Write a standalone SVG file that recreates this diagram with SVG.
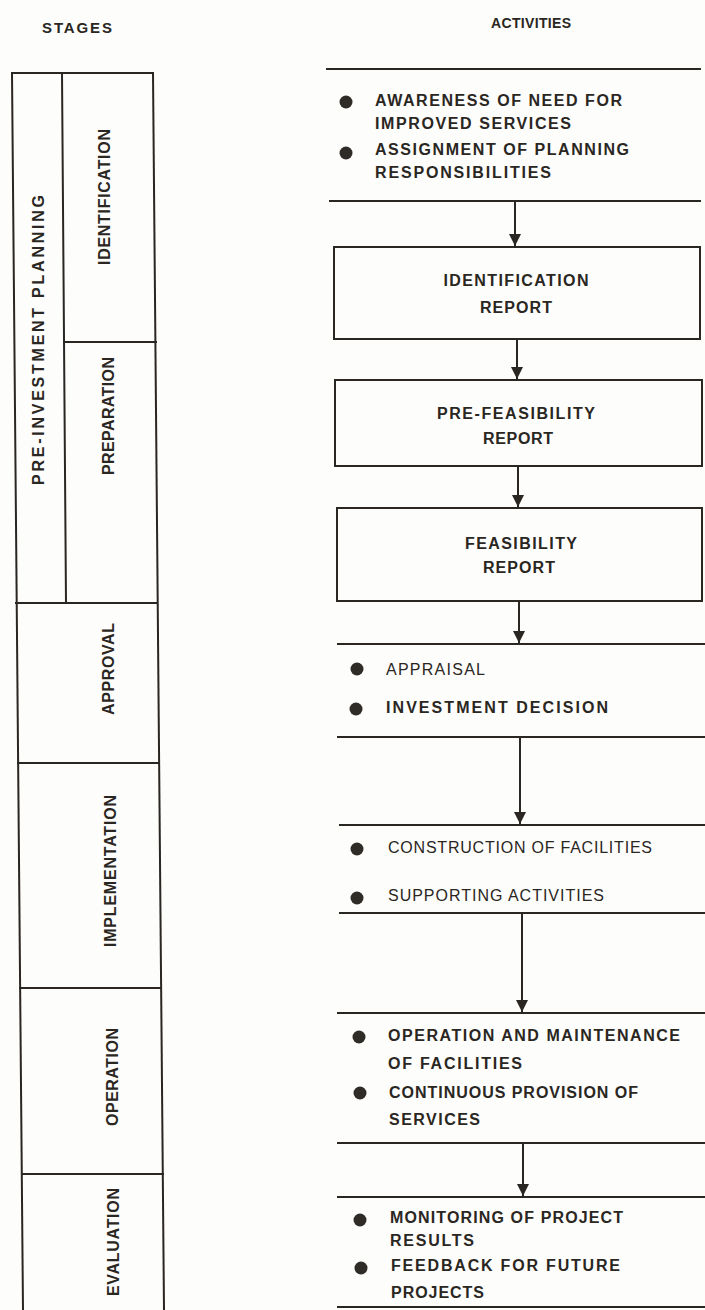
<svg xmlns="http://www.w3.org/2000/svg" width="705" height="1310" viewBox="0 0 705 1310">
<defs>
<style>
text{font-family:"Liberation Sans",Arial,sans-serif;font-size:16px;fill:#2a2622;font-weight:bold}
.lt{font-weight:normal}
.hd{font-size:15px}
.mid{text-anchor:middle}
.ln{stroke:#2a2622;stroke-width:2;fill:none;stroke-linecap:square}
.box{stroke:#2a2622;stroke-width:2;fill:none}
.dot{fill:#2f2b27}
</style>
<marker id="ah" viewBox="0 0 10 10" refX="10" refY="5" markerWidth="12" markerHeight="12" orient="auto" markerUnits="userSpaceOnUse">
<path d="M0,0 L10,5 L0,10 z" fill="#2a2622"/>
</marker>
</defs>
<rect width="705" height="1310" fill="#fdfdfb"/>

<g id="headers">
<text x="77" y="33" class="mid hd" textLength="70" lengthAdjust="spacing">STAGES</text>
<text x="531" y="28" class="mid" style="font-size:14px" textLength="80" lengthAdjust="spacing">ACTIVITIES</text>
</g>

<g id="stages">
<g id="stage-frame">
<line class="ln" x1="12" y1="73" x2="153" y2="73"/>
<line class="ln" x1="12" y1="73" x2="23" y2="1310"/>
<line class="ln" x1="153" y1="73" x2="164" y2="1310"/>
<line class="ln" x1="62" y1="73" x2="66" y2="603"/>
<line class="ln" x1="64" y1="342" x2="156" y2="342"/>
<line class="ln" x1="16" y1="603" x2="157" y2="603"/>
<line class="ln" x1="18" y1="763" x2="159" y2="763"/>
<line class="ln" x1="20" y1="988" x2="161" y2="988"/>
<line class="ln" x1="22" y1="1174" x2="163" y2="1174"/>
</g>
<g id="stage-preinvestment"><text class="mid" transform="translate(44,340) rotate(-90)" textLength="290" lengthAdjust="spacing">PRE-INVESTMENT  PLANNING</text></g>
<g id="stage-identification"><text class="mid" transform="translate(110,197) rotate(-90)" textLength="136" lengthAdjust="spacing">IDENTIFICATION</text></g>
<g id="stage-preparation"><text class="mid" transform="translate(114,416) rotate(-90)" textLength="118" lengthAdjust="spacing">PREPARATION</text></g>
<g id="stage-approval"><text class="mid" transform="translate(114,669) rotate(-90)" textLength="92" lengthAdjust="spacing">APPROVAL</text></g>
<g id="stage-implementation"><text class="mid" transform="translate(116,871) rotate(-90)" textLength="152" lengthAdjust="spacing">IMPLEMENTATION</text></g>
<g id="stage-operation"><text class="mid" transform="translate(118,1077) rotate(-90)" textLength="98" lengthAdjust="spacing">OPERATION</text></g>
<g id="stage-evaluation"><text class="mid" transform="translate(119,1242) rotate(-90)" textLength="108" lengthAdjust="spacing">EVALUATION</text></g>
</g>

<g id="connectors">
<line class="ln" x1="327" y1="69" x2="700" y2="69"/>
<line class="ln" x1="330" y1="201" x2="700" y2="201"/>
<line class="ln" x1="338" y1="644" x2="705" y2="644"/>
<line class="ln" x1="338" y1="737" x2="705" y2="737"/>
<line class="ln" x1="340" y1="825" x2="705" y2="825"/>
<line class="ln" x1="340" y1="913" x2="705" y2="913"/>
<line class="ln" x1="338" y1="1013" x2="705" y2="1013"/>
<line class="ln" x1="338" y1="1143" x2="705" y2="1143"/>
<line class="ln" x1="338" y1="1197" x2="705" y2="1197"/>
<line class="ln" x1="338" y1="1307" x2="705" y2="1307"/>
<line class="ln" x1="515" y1="201" x2="515" y2="246" marker-end="url(#ah)"/>
<line class="ln" x1="517" y1="339" x2="517" y2="379" marker-end="url(#ah)"/>
<line class="ln" x1="518" y1="466" x2="518" y2="507" marker-end="url(#ah)"/>
<line class="ln" x1="519" y1="601" x2="519" y2="643" marker-end="url(#ah)"/>
<line class="ln" x1="520" y1="737" x2="520" y2="824" marker-end="url(#ah)"/>
<line class="ln" x1="522" y1="913" x2="522" y2="1012" marker-end="url(#ah)"/>
<line class="ln" x1="523" y1="1143" x2="523" y2="1196" marker-end="url(#ah)"/>
</g>

<g id="act-identification">
<circle class="dot" cx="346" cy="102" r="6.5"/>
<circle class="dot" cx="346" cy="153" r="6.5"/>
<text x="375" y="106" textLength="247" lengthAdjust="spacing">AWARENESS OF NEED FOR</text>
<text x="375" y="129" textLength="196" lengthAdjust="spacing">IMPROVED SERVICES</text>
<text x="375" y="155" textLength="254" lengthAdjust="spacing">ASSIGNMENT OF PLANNING</text>
<text x="375" y="178" textLength="176" lengthAdjust="spacing">RESPONSIBILITIES</text>
</g>

<g id="identification-report">
<rect class="box" x="334" y="247" width="366" height="92"/>
<text x="516" y="286" class="mid" textLength="145" lengthAdjust="spacing">IDENTIFICATION</text>
<text x="516" y="313" class="mid" textLength="72" lengthAdjust="spacing">REPORT</text>
</g>

<g id="prefeasibility-report">
<rect class="box" x="335" y="380" width="367" height="86"/>
<text x="516" y="419" class="mid" textLength="158" lengthAdjust="spacing">PRE-FEASIBILITY</text>
<text x="518" y="444" class="mid" textLength="70" lengthAdjust="spacing">REPORT</text>
</g>

<g id="feasibility-report">
<rect class="box" x="337" y="508" width="365" height="93"/>
<text x="521" y="549" class="mid" textLength="112" lengthAdjust="spacing">FEASIBILITY</text>
<text x="519" y="573" class="mid" textLength="72" lengthAdjust="spacing">REPORT</text>
</g>

<g id="act-approval">
<circle class="dot" cx="357" cy="669" r="6.5"/>
<circle class="dot" cx="356" cy="709" r="6.5"/>
<text x="386" y="675" class="lt" textLength="99" lengthAdjust="spacing">APPRAISAL</text>
<text x="386" y="713" textLength="222" lengthAdjust="spacing">INVESTMENT DECISION</text>
</g>

<g id="act-implementation">
<circle class="dot" cx="357" cy="849" r="6.5"/>
<circle class="dot" cx="357" cy="898" r="6.5"/>
<text x="388" y="853" class="lt" textLength="264" lengthAdjust="spacing">CONSTRUCTION OF FACILITIES</text>
<text x="388" y="901" class="lt" textLength="216" lengthAdjust="spacing">SUPPORTING ACTIVITIES</text>
</g>

<g id="act-operation">
<circle class="dot" cx="359" cy="1037" r="6.5"/>
<circle class="dot" cx="360" cy="1093" r="6.5"/>
<text x="388" y="1041" textLength="292" lengthAdjust="spacing">OPERATION AND MAINTENANCE</text>
<text x="388" y="1069" textLength="134" lengthAdjust="spacing">OF FACILITIES</text>
<text x="389" y="1098" textLength="249" lengthAdjust="spacing">CONTINUOUS PROVISION OF</text>
<text x="389" y="1125" textLength="91" lengthAdjust="spacing">SERVICES</text>
</g>

<g id="act-evaluation">
<circle class="dot" cx="360" cy="1220" r="6.5"/>
<circle class="dot" cx="361" cy="1268" r="6.5"/>
<text x="390" y="1223" textLength="233" lengthAdjust="spacing">MONITORING OF PROJECT</text>
<text x="390" y="1246" textLength="84" lengthAdjust="spacing">RESULTS</text>
<text x="391" y="1271" textLength="229" lengthAdjust="spacing">FEEDBACK FOR FUTURE</text>
<text x="391" y="1298" textLength="93" lengthAdjust="spacing">PROJECTS</text>
</g>
</svg>
